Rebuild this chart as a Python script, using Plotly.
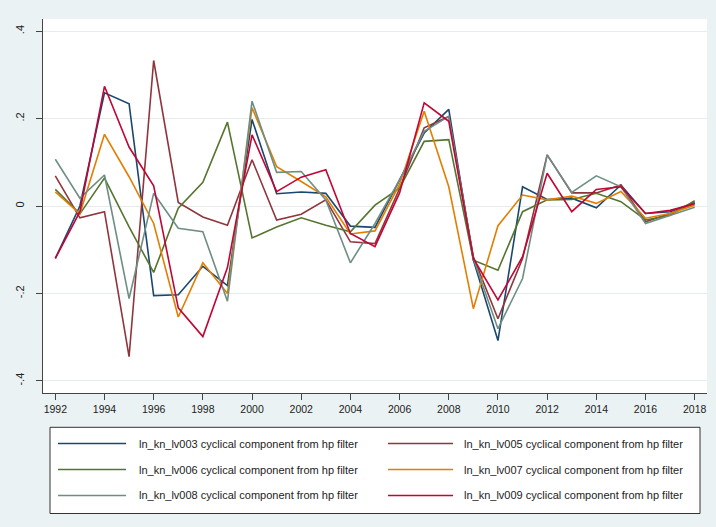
import plotly.graph_objects as go

years = list(range(1992, 2019))

lv003 = [-0.12, 0.0, 0.259, 0.234, -0.205, -0.203, -0.138, -0.182, 0.198, 0.028, 0.032, 0.029, -0.046, -0.049,
         0.06, 0.167, 0.221, -0.124, -0.308, 0.044, 0.015, 0.018, -0.004, 0.048, -0.017, -0.013, 0.008]
lv005 = [0.069, -0.027, -0.013, -0.345, 0.333, 0.008, -0.025, -0.044, 0.106, -0.032, -0.019, 0.014, -0.082, -0.086,
         0.04, 0.179, 0.205, -0.116, -0.258, -0.12, 0.117, 0.03, 0.03, 0.048, -0.036, -0.017, 0.006]
lv006 = [0.038, -0.018, 0.064, -0.048, -0.152, -0.005, 0.054, 0.192, -0.073, -0.048, -0.027, -0.044, -0.059, 0.002,
         0.041, 0.148, 0.152, -0.124, -0.147, -0.013, 0.014, 0.015, 0.029, 0.01, -0.032, -0.021, 0.012]
lv007 = [0.032, -0.018, 0.164, 0.067, -0.04, -0.254, -0.13, -0.2, 0.225, 0.09, 0.056, 0.021, -0.064, -0.057,
         0.05, 0.217, 0.044, -0.235, -0.045, 0.025, 0.014, 0.023, 0.006, 0.033, -0.028, -0.017, 0.002]
lv008 = [0.107, 0.018, 0.071, -0.212, 0.029, -0.051, -0.059, -0.218, 0.24, 0.077, 0.079, 0.014, -0.13, -0.04,
         0.06, 0.171, 0.205, -0.12, -0.281, -0.166, 0.117, 0.031, 0.069, 0.044, -0.04, -0.021, -0.003]
lv009 = [-0.12, -0.013, 0.274, 0.135, 0.046, -0.233, -0.299, -0.141, 0.163, 0.033, 0.066, 0.083, -0.063, -0.093,
         0.03, 0.236, 0.194, -0.12, -0.215, -0.116, 0.075, -0.013, 0.038, 0.044, -0.017, -0.01, 0.005]

names = [
    "ln_kn_lv003 cyclical component from hp filter",
    "ln_kn_lv005 cyclical component from hp filter",
    "ln_kn_lv006 cyclical component from hp filter",
    "ln_kn_lv007 cyclical component from hp filter",
    "ln_kn_lv008 cyclical component from hp filter",
    "ln_kn_lv009 cyclical component from hp filter",
]
series = [lv003, lv005, lv006, lv007, lv008, lv009]
colors = ["#1A476F", "#90353B", "#55752F", "#E37E00", "#6E8E84", "#C10534"]

y_tickvals = [-0.4, -0.2, 0, 0.2, 0.4]
y_ticktext = ["-.4", "-.2", "0", ".2", ".4"]
x_tickvals = list(range(1992, 2019, 2))

W, H = 716, 527
ML, MR, MT, MB = 43, 9, 19, 134
PW, PH = W - ML - MR, H - MT - MB

def px2x(px):
    return (px - ML) / PW

def py2y(py):
    return (H - MB - py) / PH

fig = go.Figure()
for name, vals, col in zip(names, series, colors):
    fig.add_trace(go.Scatter(x=years, y=vals, mode="lines", name=name,
                             line=dict(color=col, width=1.6), showlegend=False))

# Manual Stata-style legend (2 columns x 3 rows, row-wise order)
shapes = [dict(type="rect", xref="paper", yref="paper",
               x0=px2x(50), x1=px2x(700), y0=py2y(513.5), y1=py2y(427.3),
               line=dict(color="#333333", width=1), fillcolor="white", layer="above")]
annotations = []
col_sample = [(58, 126, 137), (388, 453, 462)]
row_y = [443.5, 469.5, 495.5]
for i, (name, col) in enumerate(zip(names, colors)):
    r, c = divmod(i, 2)
    sx0, sx1, tx = col_sample[c]
    yy = py2y(row_y[r])
    shapes.append(dict(type="line", xref="paper", yref="paper", x0=px2x(sx0), x1=px2x(sx1),
                       y0=yy, y1=yy, line=dict(color=col, width=1.6), layer="above"))
    annotations.append(dict(xref="paper", yref="paper", x=px2x(tx), y=yy, text=name,
                            showarrow=False, xanchor="left", yanchor="middle",
                            font=dict(family="Liberation Sans, Arial, sans-serif", size=11, color="#222222")))

fig.update_layout(
    width=W, height=H,
    margin=dict(l=ML, r=MR, t=MT, b=MB, pad=0),
    paper_bgcolor="#EAF2F3",
    plot_bgcolor="white",
    font=dict(family="Liberation Sans, Arial, sans-serif", size=10.5, color="#222222"),
    shapes=shapes,
    annotations=annotations,
    showlegend=False,
    xaxis=dict(range=[1991.5, 2018.5], tickvals=x_tickvals, showgrid=False, zeroline=False,
               showline=True, linecolor="#444444", linewidth=1,
               ticks="outside", ticklen=6, tickcolor="#444444", tickwidth=1,
               tickfont=dict(size=10.5)),
    yaxis=dict(range=[-0.428, 0.428], tickvals=y_tickvals, ticktext=y_ticktext, tickangle=-90,
               showgrid=True, gridcolor="#E6ECEC", gridwidth=1, zeroline=False,
               showline=True, linecolor="#444444", linewidth=1,
               ticks="outside", ticklen=6, tickcolor="#444444", tickwidth=1,
               ticklabelstandoff=8, tickfont=dict(size=11)),
)

fig.write_html("out.html")
